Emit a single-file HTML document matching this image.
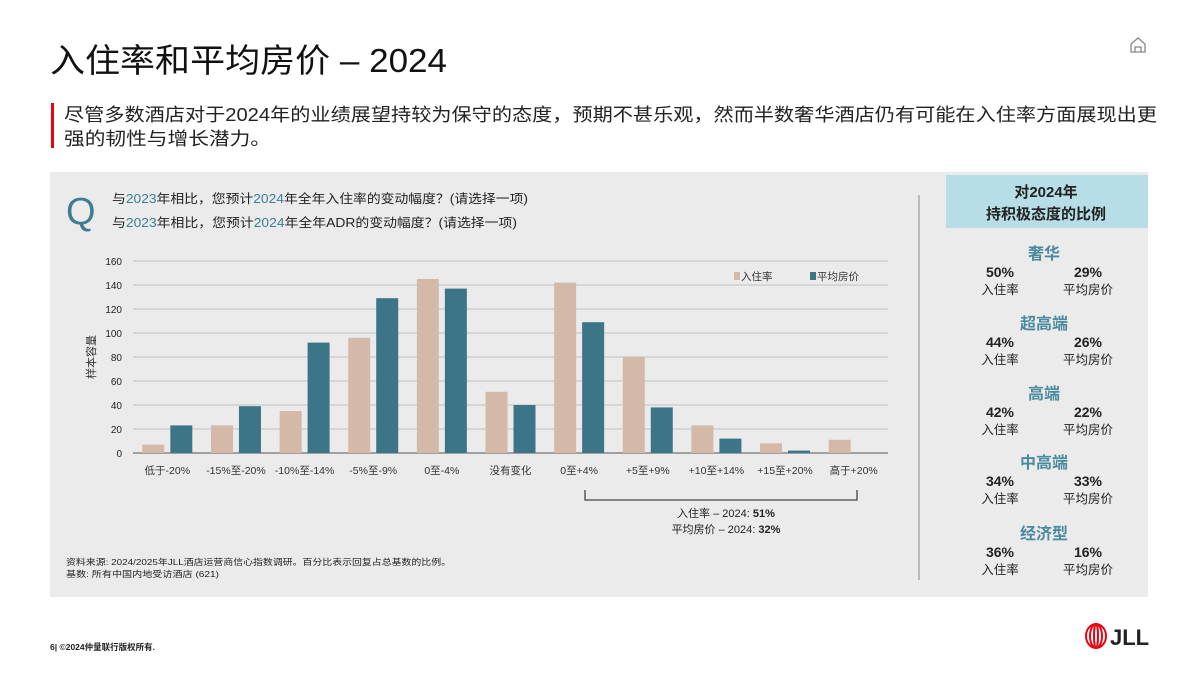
<!DOCTYPE html>
<html><head><meta charset="utf-8"><style>
body{margin:0;width:1200px;height:675px;background:#fff;overflow:hidden;font-family:"Liberation Sans","Noto Sans CJK SC",sans-serif}
svg text{font-family:"Liberation Sans","Noto Sans CJK SC",sans-serif}
</style></head><body>
<svg id="s" width="1200" height="675" xmlns="http://www.w3.org/2000/svg">
<text x="50" y="72" font-size="33" fill="#111" textLength="397" lengthAdjust="spacingAndGlyphs">入住率和平均房价 – 2024</text>
<g><path d="M1131 52 L1131 44 L1138 38 L1145 44 L1145 52 Z M1135 52 L1135 47 L1141 47 L1141 52" fill="none" stroke="#888" stroke-width="1.3"/></g>
<rect x="51" y="103" width="3" height="45" fill="#e30613"/>
<text x="64" y="121" font-size="18" fill="#222" textLength="1093" lengthAdjust="spacingAndGlyphs">尽管多数酒店对于2024年的业绩展望持较为保守的态度，预期不甚乐观，然而半数奢华酒店仍有可能在入住率方面展现出更</text>
<text x="64" y="145" font-size="18" fill="#222" textLength="207" lengthAdjust="spacingAndGlyphs">强的韧性与增长潜力。</text>
<rect x="50" y="172" width="1098" height="425" fill="#ebebeb"/>
<text x="66" y="224" font-size="38" fill="#3f7d93">Q</text>
<text x="112" y="203" font-size="12.5" fill="#222" textLength="416" lengthAdjust="spacingAndGlyphs">与<tspan fill="#3f7d93">2023</tspan>年相比，您预计<tspan fill="#3f7d93">2024</tspan>年全年入住率的变动幅度？(请选择一项)</text>
<text x="112" y="227" font-size="12.5" fill="#222" textLength="405" lengthAdjust="spacingAndGlyphs">与<tspan fill="#3f7d93">2023</tspan>年相比，您预计<tspan fill="#3f7d93">2024</tspan>年全年ADR的变动幅度？(请选择一项)</text>
<g id="chart"></g>
<text transform="translate(95,357) rotate(-90)" font-size="11" fill="#333" text-anchor="middle">样本容量</text>
<rect x="734" y="272" width="6" height="8" fill="#d4b8a8"/>
<text x="741" y="280" font-size="10.5" fill="#333">入住率</text>
<rect x="810" y="272" width="6" height="8" fill="#3d7588"/>
<text x="817" y="280" font-size="10.5" fill="#333">平均房价</text>
<path d="M585 490 L585 500 L857 500 L857 490" fill="none" stroke="#444" stroke-width="1.3"/>
<text x="726" y="517" font-size="11" fill="#222" text-anchor="middle">入住率 – 2024: <tspan font-weight="bold">51%</tspan></text>
<text x="726" y="533" font-size="11" fill="#222" text-anchor="middle">平均房价 – 2024: <tspan font-weight="bold">32%</tspan></text>
<text x="66" y="565" font-size="8.5" fill="#222" textLength="385" lengthAdjust="spacingAndGlyphs">资料来源: 2024/2025年JLL酒店运营商信心指数调研。百分比表示回复占总基数的比例。</text>
<text x="66" y="577" font-size="8.5" fill="#222" textLength="153" lengthAdjust="spacingAndGlyphs">基数: 所有中国内地受访酒店 (621)</text>
<line x1="919" y1="195" x2="919" y2="580" stroke="#999" stroke-width="1.2"/>
<rect x="946" y="175" width="202" height="53" fill="#b7dde6"/>
<text x="1046" y="197" font-size="15" font-weight="bold" fill="#222" text-anchor="middle">对2024年</text>
<text x="1046" y="219" font-size="15" font-weight="bold" fill="#222" text-anchor="middle">持积极态度的比例</text>
<g id="summary"></g>
<text x="50" y="650" font-size="8.5" font-weight="bold" fill="#222">6| ©2024仲量联行版权所有.</text>
<g>
<ellipse cx="1096" cy="636" rx="10" ry="12" fill="none" stroke="#e30613" stroke-width="2"/>
<ellipse cx="1096" cy="636" rx="6" ry="12" fill="none" stroke="#e30613" stroke-width="2"/>
<ellipse cx="1096" cy="636" rx="2" ry="12" fill="none" stroke="#e30613" stroke-width="2"/>
<text x="1110" y="645" font-size="22" font-weight="bold" font-family="Liberation Serif" fill="#222">JLL</text>
</g>
</svg>
<script>
const categories=["低于-20%","-15%至-20%","-10%至-14%","-5%至-9%","0至-4%","没有变化","0至+4%","+5至+9%","+10至+14%","+15至+20%","高于+20%"];
const occupancy=[7,23,35,96,145,51,142,80,23,8,11];
const adr=[23,39,92,129,137,40,109,38,12,2,0];
const yTicks=[0,20,40,60,80,100,120,140,160];
const segments=["奢华","超高端","高端","中高端","经济型"];
const occPct=["50%","44%","42%","34%","36%"];
const adrPct=["29%","26%","22%","33%","16%"];
const NS="http://www.w3.org/2000/svg";
const X0=133,X1=888,Y0=453,Y1=261,YMAX=160;
const band=(X1-X0)/categories.length;
function y(v){return Y0-(v/YMAX)*(Y0-Y1);}
function xc(i){return X0+band*(i+0.5);}
function mk(tag,attrs,parent){const e=document.createElementNS(NS,tag);for(const k in attrs)e.setAttribute(k,attrs[k]);parent.appendChild(e);return e;}
const g=document.getElementById('chart');
yTicks.forEach(t=>{
 const l=mk('line',{x1:X0,x2:X1,y1:y(t),y2:y(t),stroke:t===0?'#888':'#c9c9c9','stroke-width':t===0?1.5:1.2},g);
 
 
 const tx=mk('text',{x:122,y:y(t)+4,'font-size':10,fill:'#222','text-anchor':'end'},g);
 tx.textContent=t;
 
 
});
const bw=22;
categories.forEach((c,i)=>{
 const a=mk('rect',{x:xc(i)-bw-3,y:y(occupancy[i]),width:bw,height:Y0-y(occupancy[i]),fill:'#d4b8a8'},g);
 
 
 const b=mk('rect',{x:xc(i)+3,y:y(adr[i]),width:bw,height:Y0-y(adr[i]),fill:'#3d7588'},g);
 
 
 const t=mk('text',{x:xc(i),y:474,'font-size':10.5,fill:'#333','text-anchor':'middle'},g);
 t.textContent=c;
 
 
});
const s=document.getElementById('summary');
segments.forEach((seg,i)=>{
 const base=[253,323,393,462,533][i];
 const h=mk('text',{x:1044,y:base+6,'font-size':16,'font-weight':'bold',fill:'#4a8a9e','text-anchor':'middle'},s);
 h.textContent=seg;
 
 
 const p1=mk('text',{x:1000,y:base+24,'font-size':14,'font-weight':'bold',fill:'#222','text-anchor':'middle'},s);
 p1.textContent=occPct[i];
 
 
 const p2=mk('text',{x:1088,y:base+24,'font-size':14,'font-weight':'bold',fill:'#222','text-anchor':'middle'},s);
 p2.textContent=adrPct[i];
 
 
 const l1=mk('text',{x:1000,y:base+41,'font-size':12.5,fill:'#222','text-anchor':'middle'},s);
 l1.textContent='入住率';
 
 
 const l2=mk('text',{x:1088,y:base+41,'font-size':12.5,fill:'#222','text-anchor':'middle'},s);
 l2.textContent='平均房价';
 
 
});
</script>
</body></html>
